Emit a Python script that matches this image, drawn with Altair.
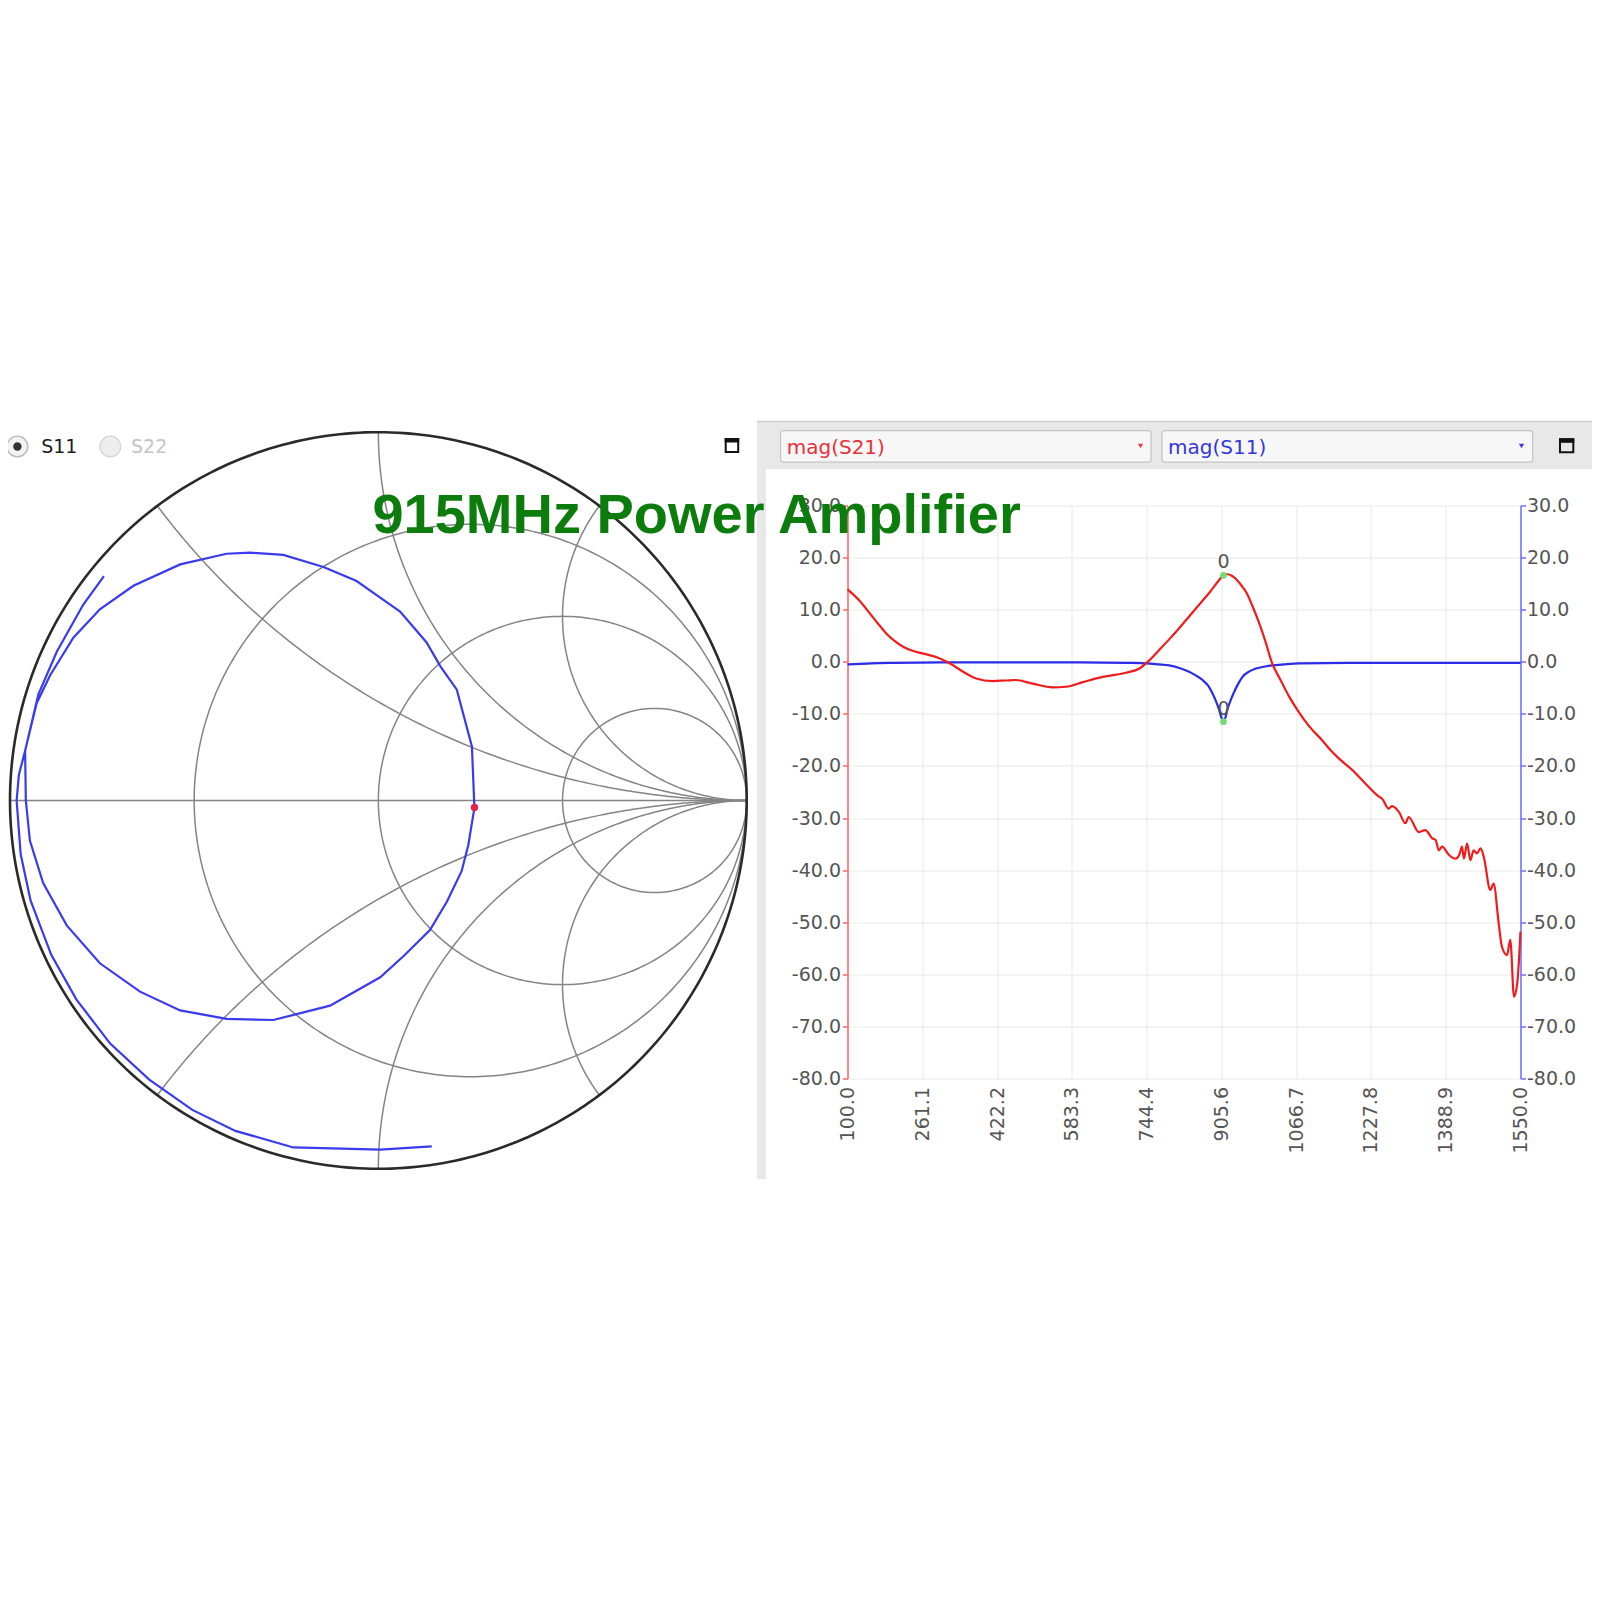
import altair as alt
import numpy as np
import pandas as pd

# ---------------- chart values ----------------
# mag(S21), dB vs frequency (MHz)
s21_freq = [100, 125, 148, 165, 184, 200, 220, 240, 262, 291,
            320, 349, 377, 413, 440, 463, 499, 542, 571, 607,
            650, 700, 729, 747, 772, 793, 815, 836, 858, 880,
            900, 910, 918, 928, 940, 950, 960, 972, 987, 1000,
            1015, 1033, 1051, 1072, 1094, 1123, 1141, 1159, 1188, 1216,
            1245, 1252, 1266, 1273, 1288, 1302, 1309, 1331, 1345, 1360,
            1367, 1374, 1381, 1396, 1410, 1418, 1424, 1428, 1435, 1442,
            1449, 1456, 1464, 1471, 1485, 1492, 1503, 1510, 1521, 1528,
            1536, 1543, 1550]
s21_db = [13.9, 11.8, 9.3, 7.4, 5.4, 4.1, 2.9, 2.1, 1.6, 0.9,
          -0.3, -1.9, -3.2, -3.7, -3.6, -3.5, -4.2, -4.9, -4.8, -3.9,
          -2.9, -2.1, -1.3, 0.0, 2.3, 4.3, 6.5, 8.7, 11.0, 13.3,
          15.6, 16.6, 16.8, 16.5, 15.6, 14.5, 13.2, 10.8, 7.4, 4.0,
          -0.3, -3.5, -6.6, -9.6, -12.3, -15.1, -17.0, -18.6, -20.8, -23.4,
          -25.9, -26.3, -28.2, -27.7, -28.8, -31.0, -29.8, -32.7, -32.3, -33.9,
          -34.2, -36.2, -35.5, -37.1, -37.8, -37.1, -35.5, -37.8, -34.9, -38.1,
          -36.2, -36.8, -35.8, -37.5, -43.8, -42.6, -50.2, -54.7, -56.3, -53.4,
          -64.3, -61.7, -51.8]

# mag(S11), dB vs frequency (MHz)
s11_freq = [100, 150, 200, 300, 400, 500, 600, 700, 744, 770,
            793, 815, 836, 852, 865, 877, 886, 894, 901, 906,
            910, 914, 918, 925, 933, 942, 951, 965, 980, 1000,
            1015, 1040, 1073, 1180, 1300, 1400, 1550]
s11_db = [-0.5, -0.3, -0.2, -0.1, -0.1, -0.1, -0.1, -0.2, -0.3, -0.5,
          -0.7, -1.2, -1.9, -2.7, -3.5, -4.6, -6.0, -7.6, -9.3, -10.8,
          -11.5, -10.8, -9.3, -7.5, -5.8, -4.2, -2.9, -1.9, -1.3, -0.9,
          -0.7, -0.5, -0.3, -0.2, -0.2, -0.2, -0.2]

marker_freq = [910, 910]
marker_db = [16.6, -11.5]
marker_label = ["0", "0"]

x_ticks = [100.0, 261.1, 422.2, 583.3, 744.4, 905.6, 1066.7, 1227.8, 1388.9, 1550.0]
y_ticks = [-80, -70, -60, -50, -40, -30, -20, -10, 0, 10, 20, 30]

# S11 trace on the Smith chart (reflection coefficient, real / imaginary)
gamma_re = [0.145, 0.005, -0.231, -0.388, -0.505, -0.622, -0.728, -0.820, -0.888, -0.944,
            -0.971, -0.982, -0.976, -0.959, -0.928, -0.891, -0.828, -0.756, -0.665, -0.538,
            -0.412, -0.348, -0.258, -0.149, -0.059, 0.005, 0.059, 0.131, 0.168, 0.213,
            0.254, 0.260, 0.261, 0.244, 0.226, 0.186, 0.140, 0.068, 0.005, -0.131,
            -0.285, -0.412, -0.538, -0.647, -0.756, -0.846, -0.910, -0.946, -0.957, -0.959,
            -0.923, -0.873, -0.801, -0.745]
gamma_im = [-0.939, -0.948, -0.942, -0.897, -0.840, -0.758, -0.660, -0.540, -0.419, -0.272,
            -0.146, 0.000, 0.069, 0.135, 0.263, 0.340, 0.442, 0.519, 0.583, 0.641,
            0.670, 0.673, 0.667, 0.634, 0.596, 0.551, 0.513, 0.429, 0.365, 0.301,
            0.147, 0.000, -0.019, -0.122, -0.192, -0.275, -0.352, -0.423, -0.480, -0.557,
            -0.596, -0.593, -0.570, -0.519, -0.442, -0.339, -0.224, -0.109, 0.000, 0.135,
            0.288, 0.404, 0.532, 0.609]
smith_marker_re = [0.261]
smith_marker_im = [-0.019]

# Smith chart grid
smith_r = [1 / 3, 1.0, 3.0]
smith_x = [0.5, 1.0, 2.0, -0.5, -1.0, -2.0]

# ---------------- layout (page pixels) ----------------
VX, VY = 847.5, 505.5          # top-left of the magnitude plot area
VW, VH = 673, 573
SM_L, SM_R, SM_T, SM_B = 10.0, 746.7, 432.2, 1168.8

FONT = "DejaVu Sans"
LABEL = "#555555"

# ---------------- magnitude plot ----------------
df21 = pd.DataFrame({"f": s21_freq, "v": s21_db})
df11 = pd.DataFrame({"f": s11_freq, "v": s11_db})
dfm = pd.DataFrame({"f": marker_freq, "v": marker_db, "t": marker_label})

xs = alt.Scale(domain=[100, 1550], nice=False, zero=False)
ys = alt.Scale(domain=[-80, 30], nice=False, zero=False)
lab = dict(labelFont=FONT, labelFontSize=19, labelColor=LABEL, title=None)
lab_expr = "replace(format(datum.value, '.1f'), '\u2212', '-')"

x_axis = alt.Axis(values=x_ticks, format=".1f", labelAngle=-90, grid=True,
                  gridColor="#e8e8e8", gridWidth=1, domain=False, ticks=False,
                  labelPadding=8, labelFlush=False, labelOverlap=False, **lab)
X = alt.X("f:Q", scale=xs, axis=x_axis)

yl_axis = alt.Axis(orient="left", values=y_ticks, labelExpr=lab_expr, grid=True,
                   gridColor="#e8e8e8", gridWidth=1, domainColor="#ff6464",
                   domainWidth=1.5, tickColor="#ff6464", tickSize=5, tickWidth=1.5,
                   labelPadding=2, labelOverlap=False, **lab)
yr_axis = alt.Axis(orient="right", values=y_ticks, labelExpr=lab_expr, grid=False,
                   domainColor="#6c6cff", domainWidth=1.5, tickColor="#6c6cff",
                   tickSize=5, tickWidth=1.5, labelPadding=1, labelOverlap=False, **lab)

s11_line = alt.Chart(df11).mark_line(color="#2b2bea", strokeWidth=2.2,
                                     interpolate="monotone").encode(
    x=X, y=alt.Y("v:Q", scale=ys, axis=yr_axis))
s21_line = alt.Chart(df21).mark_line(color="#f01c1c", strokeWidth=2.2,
                                     interpolate="monotone").encode(
    x=X, y=alt.Y("v:Q", scale=ys, axis=yl_axis))
mk = alt.Chart(dfm).mark_circle(color="#74dc74", size=45, opacity=1).encode(
    x=X, y=alt.Y("v:Q", scale=ys, axis=None))
mkt = alt.Chart(dfm).mark_text(dy=-13, font=FONT, fontSize=19, color=LABEL).encode(
    x=X, y=alt.Y("v:Q", scale=ys, axis=None), text="t:N")
right = alt.layer(s11_line, s21_line, mk, mkt).resolve_scale(y="independent")

# ---------------- Smith chart ----------------
sx = alt.Scale(domain=[-1, 1], range=[SM_L - VX, SM_R - VX], nice=False, zero=False)
sy = alt.Scale(domain=[-1, 1], range=[SM_B - VY, SM_T - VY], nice=False, zero=False)

rows = []
t = np.linspace(0, 2 * np.pi, 361)
for r in smith_r:
    c, rad = r / (1 + r), 1 / (1 + r)
    for i, tt in enumerate(t):
        rows.append({"curve": f"r{r:.3f}", "i": i, "re": c + rad * np.cos(tt), "im": rad * np.sin(tt)})
rr = np.concatenate([[0.0], np.logspace(-3, 4, 400)])
for xv in smith_x:
    g = (rr + 1j * xv - 1) / (rr + 1j * xv + 1)
    for i, gg in enumerate(g):
        rows.append({"curve": f"x{xv}", "i": i, "re": gg.real, "im": gg.imag})
rows.append({"curve": "real", "i": 0, "re": -1.0, "im": 0.0})
rows.append({"curve": "real", "i": 1, "re": 1.0, "im": 0.0})
grid_df = pd.DataFrame(rows)
outer_df = pd.DataFrame({"i": np.arange(len(t)), "re": np.cos(t), "im": np.sin(t)})
trace_df = pd.DataFrame({"i": np.arange(len(gamma_re)), "re": gamma_re, "im": gamma_im})
smk_df = pd.DataFrame({"re": smith_marker_re, "im": smith_marker_im})

SX = alt.X("re:Q", scale=sx, axis=None)
SY = alt.Y("im:Q", scale=sy, axis=None)
grid = alt.Chart(grid_df).mark_line(color="#848484", strokeWidth=1.5).encode(
    x=SX, y=SY, detail="curve:N", order="i:Q")
outer = alt.Chart(outer_df).mark_line(color="#2a2a2a", strokeWidth=2.6).encode(
    x=SX, y=SY, order="i:Q")
trace = alt.Chart(trace_df).mark_line(color="#3a3aee", strokeWidth=2.2).encode(
    x=SX, y=SY, order="i:Q")
sdot = alt.Chart(smk_df).mark_circle(color="#e8204c", size=55, opacity=1).encode(x=SX, y=SY)
smith = alt.layer(grid, outer, trace, sdot)

# ---------------- window chrome ----------------
ux = alt.Scale(domain=[0, 1600], range=[-VX, 1600 - VX], nice=False, zero=False)
uy = alt.Scale(domain=[0, 1600], range=[-VY, 1600 - VY], nice=False, zero=False)

def box_enc():
    return dict(x=alt.X("x:Q", scale=ux, axis=None), x2="x2:Q",
                y=alt.Y("y:Q", scale=uy, axis=None), y2="y2:Q")

fill_df = pd.DataFrame({
    "x":  [757, 757, 757, 724.7, 1559.0],
    "x2": [1600, 766, 1600, 739.2, 1574.3],
    "y":  [421.5, 421.5, 420.8, 438.0, 438.3],
    "y2": [469.0, 1179.0, 422.3, 442.5, 442.8],
    "c":  ["#e8e8e8", "#e8e8e8", "#d0d0d0", "#111111", "#111111"],
})
fills = alt.Chart(fill_df).mark_rect().encode(
    color=alt.Color("c:N", scale=None), **box_enc())

drop_df = pd.DataFrame({"x": [780.6, 1162.0], "x2": [1151.0, 1532.7],
                        "y": [430.6, 430.6], "y2": [462.2, 462.2]})
drops = alt.Chart(drop_df).mark_rect(fill="#f7f7f7", stroke="#c4c4c4", strokeWidth=1.2,
                                      cornerRadius=3).encode(**box_enc())

icon_df = pd.DataFrame({"x": [725.7, 1560.0], "x2": [738.2, 1573.3],
                        "y": [439.0, 439.3], "y2": [452.0, 452.3]})
icons = alt.Chart(icon_df).mark_rect(fill="transparent", stroke="#111111",
                                      strokeWidth=2).encode(**box_enc())

radio_df = pd.DataFrame({"x": [17.4, 110.3], "y": [446.5, 446.5],
                         "f": ["#f3f3f3", "#ededed"], "s": ["#b8b8b8", "#d6d6d6"]})
radios = alt.Chart(radio_df).mark_point(shape="circle", filled=True, size=430,
                                        strokeWidth=1.3, opacity=1).encode(
    x=alt.X("x:Q", scale=ux, axis=None), y=alt.Y("y:Q", scale=uy, axis=None),
    fill=alt.Fill("f:N", scale=None), stroke=alt.Stroke("s:N", scale=None))
dot_df = pd.DataFrame({"x": [17.4], "y": [446.5]})
rdot = alt.Chart(dot_df).mark_point(shape="circle", filled=True, size=70, color="#333333",
                                    opacity=1).encode(
    x=alt.X("x:Q", scale=ux, axis=None), y=alt.Y("y:Q", scale=uy, axis=None))

arrow_df = pd.DataFrame({"x": [1140.5, 1521.5], "y": [446.0, 446.0],
                         "c": ["#e83a3a", "#3a3ae8"]})
arrows = alt.Chart(arrow_df).mark_point(shape="triangle-down", filled=True, size=28,
                                        opacity=1).encode(
    x=alt.X("x:Q", scale=ux, axis=None), y=alt.Y("y:Q", scale=uy, axis=None),
    color=alt.Color("c:N", scale=None))

ui_text_df = pd.DataFrame({
    "x": [41.2, 131.0, 786.7, 1168.0],
    "y": [446.5, 446.5, 447.5, 447.5],
    "t": ["S11", "S22", "mag(S21)", "mag(S11)"],
    "c": ["#1e1e1e", "#c4c4c4", "#e8303a", "#3535e0"],
    "s": [19, 19, 20, 20],
})
ui_text = alt.Chart(ui_text_df).mark_text(align="left", baseline="middle", font=FONT).encode(
    x=alt.X("x:Q", scale=ux, axis=None), y=alt.Y("y:Q", scale=uy, axis=None),
    text="t:N", color=alt.Color("c:N", scale=None), size=alt.Size("s:Q", scale=None))

ui_bg = alt.layer(fills, drops, icons, radios, rdot, arrows, ui_text)

title_df = pd.DataFrame({"x": [372.4], "y": [532.7], "t": ["915MHz Power Amplifier"]})
title = alt.Chart(title_df).mark_text(
    align="left", baseline="alphabetic", font="Liberation Sans",
    fontWeight="bold", fontSize=56, color="#0c7c0c").encode(
    x=alt.X("x:Q", scale=ux, axis=None), y=alt.Y("y:Q", scale=uy, axis=None), text="t:N")

chart = alt.layer(ui_bg, smith, right, title).resolve_scale(
    x="independent", y="independent").properties(
    width=VW, height=VH,
    padding={"left": VX - 8, "top": VY - 8, "right": 1584 - (VX - 8) - VW,
             "bottom": 1584 - (VY - 8) - VH},
    autosize=alt.AutoSizeParams(type="none"),
).configure_view(stroke=None)

chart.save("out.html", embed_options={"renderer": "svg", "actions": False})
